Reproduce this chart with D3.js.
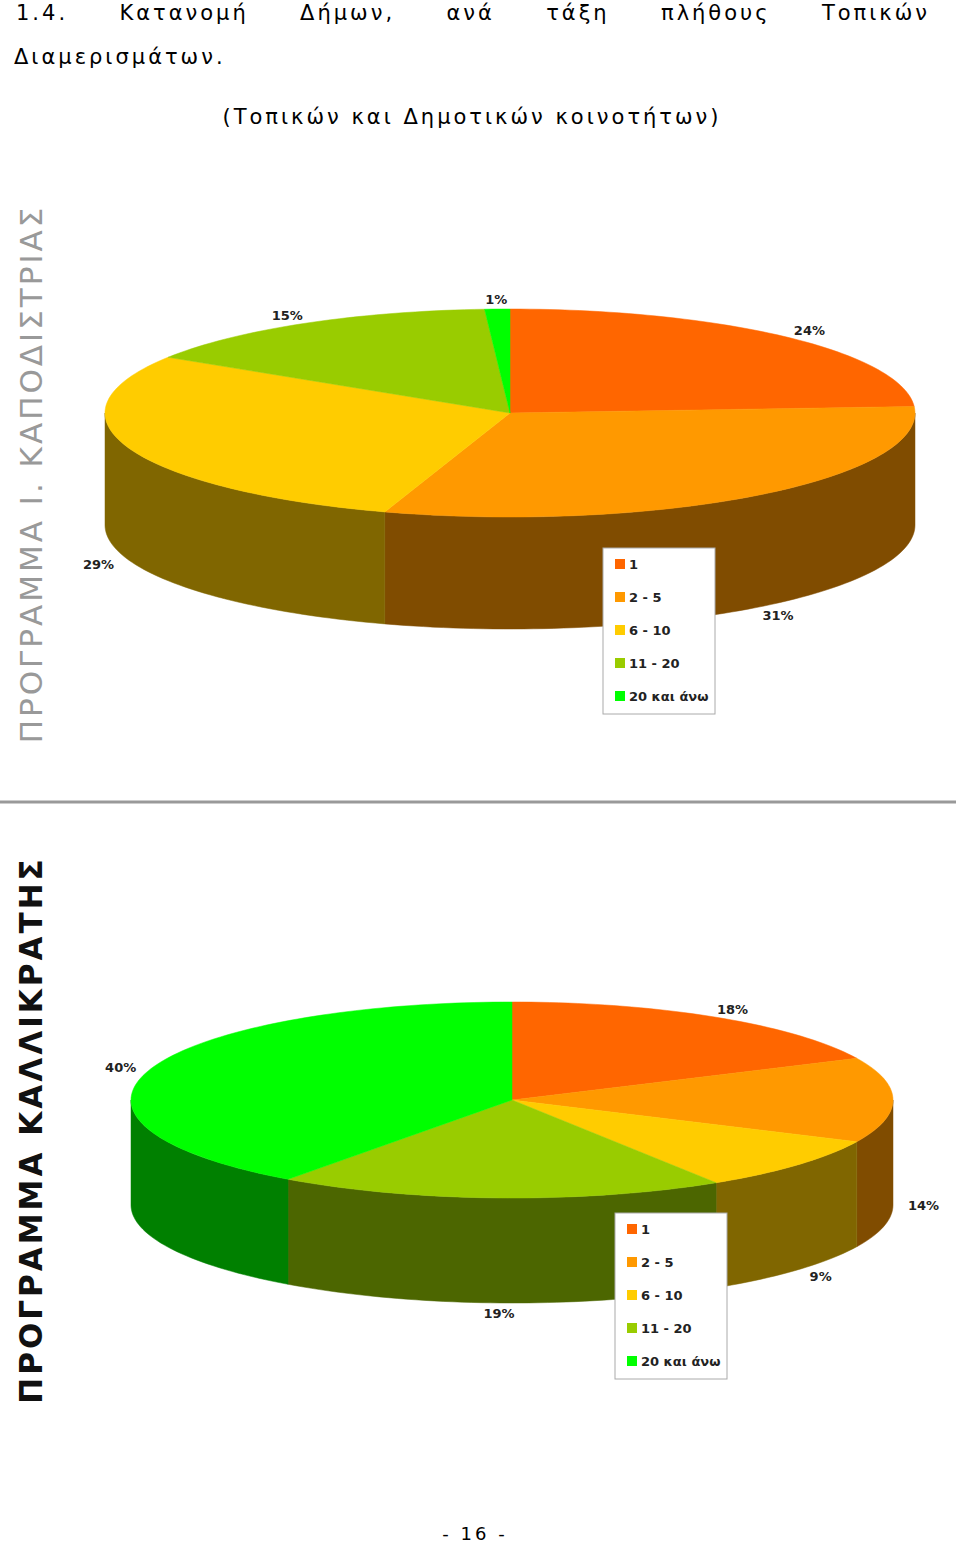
<!DOCTYPE html>
<html><head><meta charset="utf-8">
<script src="https://cdn.jsdelivr.net/npm/d3@7"></script>
<style>
body{margin:0;background:#fff}
text{font-family:"DejaVu Sans",Verdana,sans-serif}
</style></head><body>
<script>
// data
const categories = ['1', '2 - 5', '6 - 10', '11 - 20', '20 και άνω']
const kapodistrias = [24, 31, 29, 15, 1]
const kallikratis = [18, 14, 9, 19, 40]
const topColors = ['#FF6600', '#FF9900', '#FFCC00', '#99CC00', '#00FF00']
const sideColors = ['#803300', '#804C00', '#806600', '#4C6600', '#008000']

const svg = d3.select('body').append('svg').attr('width', 960).attr('height', 1546)

// heading, justified between 16 and 930
const titleWords = ['1.4.', 'Κατανομή', 'Δήμων,', 'ανά', 'τάξη', 'πλήθους', 'Τοπικών']
const tws = svg.selectAll('.tw').data(titleWords).join('text')
  .attr('y', 20).attr('font-size', 21).attr('letter-spacing', 3).text(d => d)
const widths = tws.nodes().map(n => n.getComputedTextLength())
const gap = (914 - d3.sum(widths)) / (titleWords.length - 1)
let xx = 16
tws.each(function (d, i) { d3.select(this).attr('x', xx); xx += widths[i] + gap })
svg.append('text').attr('x', 14).attr('y', 64).attr('font-size', 21).attr('letter-spacing', 3).text('Διαμερισμάτων.')
svg.append('text').attr('x', 472).attr('y', 124).attr('text-anchor', 'middle')
  .attr('font-size', 21).attr('letter-spacing', 3).text('(Τοπικών και Δημοτικών κοινοτήτων)')

svg.append('text').attr('transform', 'translate(42,474) rotate(-90)').attr('text-anchor', 'middle')
  .attr('font-size', 31).attr('letter-spacing', 3).attr('fill', '#999').text('ΠΡΟΓΡΑΜΜΑ Ι. ΚΑΠΟΔΙΣΤΡΙΑΣ')
svg.append('text').attr('transform', 'translate(42,1130) rotate(-90)').attr('text-anchor', 'middle')
  .attr('font-size', 31).attr('letter-spacing', 3).attr('font-weight', 'bold').attr('fill', '#111').text('ΠΡΟΓΡΑΜΜΑ ΚΑΛΛΙΚΡΑΤΗΣ')
svg.append('line').attr('x1', 0).attr('x2', 956).attr('y1', 802).attr('y2', 802).attr('stroke', '#999').attr('stroke-width', 3)
svg.append('text').attr('x', 475).attr('y', 1540).attr('text-anchor', 'middle').attr('font-size', 18).attr('letter-spacing', 3).text('- 16 -')

function pie3d(values, cx, cy, rx, ry, depth, legendX, legendY) {
  const g = svg.append('g')
  const arcs = d3.pie().sort(null).value(d => d)(values)
  const pt = (a, dy = 0) => [cx + rx * Math.sin(a), cy - ry * Math.cos(a) + dy]
  const arcPath = (a0, a1, dy) => {
    const n = Math.max(2, Math.ceil((a1 - a0) * 40))
    return d3.range(n + 1).map(i => pt(a0 + (a1 - a0) * i / n, dy))
  }
  // side walls (front half only)
  arcs.forEach((d, i) => {
    const a0 = Math.max(d.startAngle, Math.PI / 2), a1 = Math.min(d.endAngle, 3 * Math.PI / 2)
    if (a1 <= a0) return
    const pts = arcPath(a0, a1, 0).concat(arcPath(a0, a1, depth).reverse())
    g.append('path').attr('d', d3.line()(pts) + 'Z').attr('fill', sideColors[i]).attr('stroke', sideColors[i]).attr('stroke-width', 0.5)
  })
  // tops
  arcs.forEach((d, i) => {
    const pts = [[cx, cy]].concat(arcPath(d.startAngle, d.endAngle, 0))
    g.append('path').attr('d', d3.line()(pts) + 'Z').attr('fill', topColors[i]).attr('stroke', topColors[i]).attr('stroke-width', 0.5)
  })
  // labels
  arcs.forEach(d => {
    const m = (d.startAngle + d.endAngle) / 2
    const front = Math.cos(m) < 0.01 ? depth : 0
    g.append('text').attr('x', cx + rx * 1.08 * Math.sin(m)).attr('y', cy - ry * 1.1 * Math.cos(m) + front + 5)
      .attr('text-anchor', 'middle').attr('font-size', 13).attr('font-weight', 'bold').attr('fill', '#222')
      .text(d.data + '%')
  })
  // legend
  const lg = g.append('g').attr('transform', `translate(${legendX},${legendY})`)
  lg.append('rect').attr('width', 112).attr('height', 166).attr('fill', '#fff').attr('stroke', '#aaa')
  categories.forEach((c, i) => {
    lg.append('rect').attr('x', 12).attr('y', 11 + i * 33).attr('width', 10).attr('height', 10).attr('fill', topColors[i])
    lg.append('text').attr('x', 26).attr('y', 21 + i * 33).attr('font-size', 13).attr('font-weight', 'bold').attr('fill', '#222').text(c)
  })
}

pie3d(kapodistrias, 510, 413, 405, 104, 112, 603, 548)
pie3d(kallikratis, 512, 1100, 381, 98, 105, 615, 1213)
</script>
</body></html>
